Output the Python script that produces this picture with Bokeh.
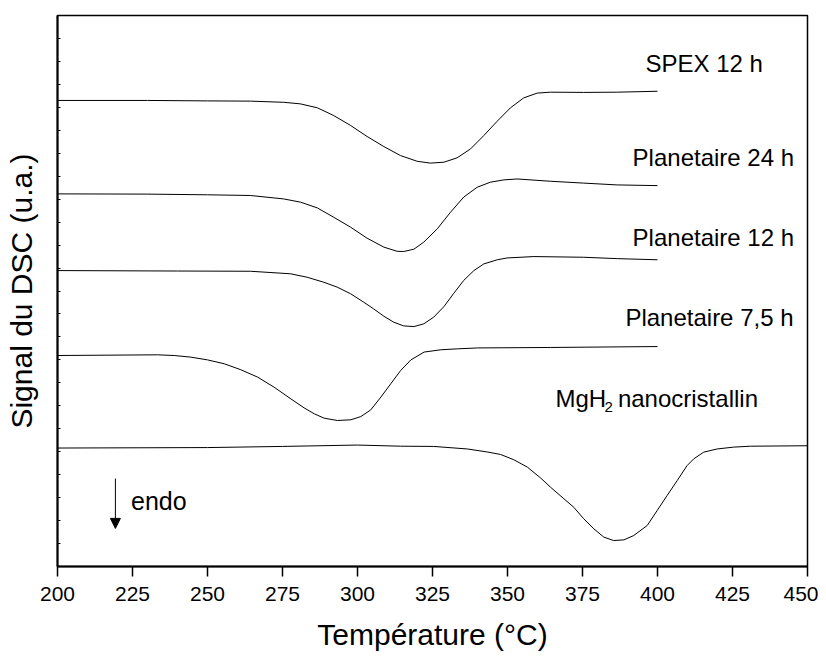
from bokeh.plotting import figure
from bokeh.models import Range1d, FixedTicker, Arrow, NormalHead
from bokeh.core.properties import value
from bokeh.embed import file_html
from bokeh.resources import INLINE

FONT = "Liberation Sans"

# Temperature (°C) and DSC signal (arbitrary units)
spex12_t = [200, 230, 250, 264.3, 275.4, 281.0, 286.6, 292.1, 297.7, 303.2, 308.8, 314.3, 319.9, 324.3,
            328.8, 333.2, 337.7, 342.1, 346.6, 351.0, 355.4, 359.9, 364.3, 375.4, 386.6, 400]
spex12_s = [20.30, 20.30, 20.28, 20.27, 20.22, 20.15, 19.98, 19.64, 19.21, 18.73, 18.29, 17.90, 17.65, 17.57,
            17.61, 17.80, 18.19, 18.77, 19.40, 19.98, 20.41, 20.62, 20.66, 20.65, 20.66, 20.70]

plan24_t = [200, 230, 250, 264.3, 275.4, 281.0, 286.6, 292.1, 297.7, 303.2, 308.8, 313.2, 315.4, 318.8,
            322.1, 326.6, 331.0, 335.4, 339.9, 344.3, 348.8, 353.2, 364.3, 375.4, 386.6, 400]
plan24_s = [16.23, 16.22, 16.19, 16.16, 16.01, 15.87, 15.62, 15.21, 14.78, 14.30, 13.91, 13.73, 13.72, 13.82,
            14.13, 14.71, 15.43, 16.09, 16.52, 16.74, 16.84, 16.88, 16.78, 16.70, 16.62, 16.59]

plan12_t = [200, 240, 264.3, 277.7, 283.2, 288.8, 293.2, 297.7, 302.1, 305.4, 308.8, 312.1, 315.4, 318.8,
            322.1, 325.4, 328.8, 332.1, 335.4, 338.8, 342.1, 346.6, 349.9, 358.8, 375.4, 386.6, 400]
plan12_s = [12.89, 12.87, 12.86, 12.75, 12.60, 12.38, 12.17, 11.88, 11.51, 11.22, 10.90, 10.64, 10.48, 10.45,
            10.57, 10.86, 11.32, 11.90, 12.46, 12.89, 13.18, 13.36, 13.44, 13.50, 13.47, 13.41, 13.36]

plan75_t = [200, 233.3, 238.9, 244.4, 250.0, 255.6, 261.1, 266.7, 272.2, 277.8, 282.2, 285.6, 288.9, 293.3,
            297.8, 301.1, 304.4, 307.8, 311.1, 314.4, 317.8, 322.2, 327.8, 333.3, 340.0, 364.3, 400]
plan75_s = [9.19, 9.22, 9.19, 9.12, 9.00, 8.83, 8.57, 8.25, 7.81, 7.30, 6.91, 6.65, 6.46, 6.36,
            6.39, 6.53, 6.82, 7.38, 7.96, 8.54, 9.00, 9.34, 9.44, 9.48, 9.52, 9.54, 9.58]

mgh2_t = [200, 250, 275, 300, 314.3, 325.4, 336.6, 343.2, 347.7, 352.1, 356.6, 361.0, 364.3, 368.8, 372.1,
          375.4, 378.8, 382.1, 385.4, 388.8, 392.1, 396.6, 399.9, 403.2, 406.6, 409.9, 412.1, 415.4, 419.9,
          425.4, 431.0, 450]
mgh2_s = [5.16, 5.18, 5.23, 5.29, 5.24, 5.23, 5.12, 4.99, 4.88, 4.65, 4.33, 3.86, 3.46, 2.95, 2.58,
          2.08, 1.64, 1.28, 1.13, 1.16, 1.35, 1.79, 2.44, 3.09, 3.75, 4.40, 4.69, 4.98, 5.12,
          5.20, 5.24, 5.26]

x_ticks = [200, 225, 250, 275, 300, 325, 350, 375, 400, 425, 450]
y_minor_ticks = list(range(0, 25))

p = figure(width=818, height=654, output_backend="svg", toolbar_location=None,
           x_range=Range1d(200, 450), y_range=Range1d(0, 24),
           min_border_left=57, min_border_right=11, min_border_top=15, min_border_bottom=88)
p.grid.visible = False
p.outline_line_color = "black"
p.outline_line_width = 1.5
p.background_fill_color = "white"
p.border_fill_color = "white"

for t, s in [(spex12_t, spex12_s), (plan24_t, plan24_s), (plan12_t, plan12_s),
             (plan75_t, plan75_s), (mgh2_t, mgh2_s)]:
    p.line(t, s, line_color="black", line_width=1, line_join="round")

xa = p.xaxis[0]
xa.ticker = FixedTicker(ticks=x_ticks, minor_ticks=[])
xa.major_tick_out = 10
xa.major_tick_in = 0
xa.major_tick_line_width = 1.5
xa.major_tick_line_color = "black"
xa.axis_line_width = 2
xa.axis_line_color = "black"
xa.major_label_text_font = FONT
xa.major_label_text_font_size = "21px"
xa.major_label_text_color = "black"
xa.major_label_standoff = 10
xa.axis_label = "Température (°C)"
xa.axis_label_text_font = FONT
xa.axis_label_text_font_size = "30px"
xa.axis_label_text_font_style = "normal"
xa.axis_label_text_color = "black"
xa.axis_label_standoff = 14

ya = p.yaxis[0]
ya.ticker = FixedTicker(ticks=[], minor_ticks=y_minor_ticks)
ya.minor_tick_in = 3
ya.minor_tick_out = 0
ya.minor_tick_line_width = 1
ya.minor_tick_line_color = "black"
ya.axis_line_width = 2
ya.axis_line_color = "black"
ya.axis_label = "Signal du DSC (u.a.)"
ya.axis_label_text_font = FONT
ya.axis_label_text_font_size = "30px"
ya.axis_label_text_font_style = "normal"
ya.axis_label_text_color = "black"
ya.axis_label_standoff = 20

def lab(x, y, txt, size="24px"):
    p.text(x=[x], y=[y], text=[txt], text_font=value(FONT), text_font_size=size,
           text_align="left", text_baseline="middle", text_color="black")

lab(396, 21.91, "SPEX 12 h")
lab(391.7, 17.81, "Planetaire 24 h")
lab(391.7, 14.33, "Planetaire 12 h")
lab(389.3, 10.84, "Planetaire 7,5 h")
lab(366.0, 7.32, "MgH")
lab(382.3, 6.95, "2", size="15px")
lab(386.8, 7.32, "nanocristallin")
lab(224.5, 2.87, "endo", size="25px")

p.add_layout(Arrow(end=NormalHead(size=10, fill_color="black", line_color="black"),
                   x_start=219.3, y_start=3.83, x_end=219.3, y_end=1.66,
                   line_color="black", line_width=1))

open("out.html", "w").write(file_html(p, INLINE))
